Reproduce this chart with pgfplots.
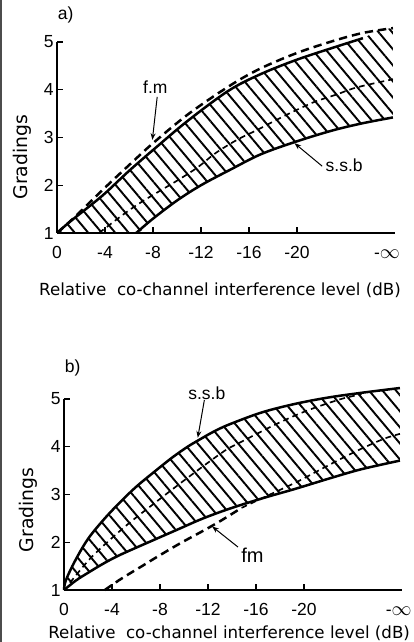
\documentclass[border=0pt]{standalone}
\usepackage{fontspec}
\setmainfont{Liberation Sans}
\newfontfamily\labfont{DejaVu Sans}
\usepackage{pgfplots}
\pgfplotsset{compat=1.18}
\usepgfplotslibrary{fillbetween}
\usetikzlibrary{patterns.meta,arrows.meta}

\pgfplotsset{panel/.style={
  scale only axis, width=203pt, height=114.6pt,
  xmin=0, xmax=28.2, ymin=1, ymax=5,
  axis lines=left, axis line style={-, line width=1.1pt},
  clip=false, axis on top, no markers,
  tick align=inside, major tick length=3.5pt,
  tick style={black, line width=0.8pt},
  xtick={0,4,8,12,16,20}, xticklabels={0,-4,-8,-12,-16,-20},
  ytick={1,2,3,4,5}, yticklabels={1,2,3,4,5},
  tick label style={font=\fontsize{10.5}{12}\selectfont},
  xticklabel style={yshift=-4.3pt},
  yticklabel style={xshift=1.5pt},
  extra x tick style={major tick length=0pt},
  extra x tick labels={\vphantom{0}-{\fontsize{12.5}{12.5}\selectfont$\infty$}},
}}
\tikzset{
  hatch/.style={draw=none, pattern={Lines[angle=-50, distance=6.2pt, line width=1.15pt]}},
  solidc/.style={black, line width=1.5pt, smooth, tension=0.55},
  fmc/.style={black, line width=1.5pt, smooth, tension=0.55, dash pattern=on 5pt off 3pt},
  innerc/.style={black, line width=1pt, smooth, tension=0.55, dash pattern=on 3.5pt off 2.5pt},
  lab/.style={font=\fontsize{10.5}{12}\selectfont},
  xlab/.style={font=\labfont\fontsize{10}{12}\selectfont},
  ylab/.style={font=\labfont\fontsize{11.3}{13}\selectfont, rotate=90},
}

\begin{document}
\begin{tikzpicture}
% ---------------- panel a ----------------
\begin{axis}[panel, at={(0pt,0pt)}, anchor=south west,
  extra x ticks={27.5}]
\addplot[draw=none, smooth, tension=0.55, name path=ufA] coordinates {
 (0,1) (1,1.22) (2.6,1.54) (4,1.83) (6,2.3) (8.2,2.78) (10.9,3.35) (14.3,3.98)
 (17,4.33) (20,4.63) (23,4.88) (25.5,5.08) (26.7,5.24) (28,5.29)};
\addplot[draw=none, smooth, tension=0.55, name path=lfA] coordinates {
 (0,1) (3,1) (6.6,1) (8,1.3) (10,1.68) (12,2.0) (14.4,2.32) (17,2.65)
 (20,2.92) (23,3.15) (25.5,3.3) (28,3.42)};
\addplot[hatch] fill between[of=ufA and lfA];
\addplot[solidc] coordinates {
 (0,1) (1,1.22) (2.6,1.54) (4,1.83) (6,2.3) (8.2,2.78) (10.9,3.35) (14.3,3.98)
 (17,4.33) (20,4.63) (23,4.88) (25.5,5.08)};
\addplot[solidc] coordinates {
 (6.6,1) (8,1.3) (10,1.68) (12,2.0) (14.4,2.32) (17,2.65)
 (20,2.92) (23,3.15) (25.5,3.3) (28,3.42)};
\addplot[fmc] coordinates {
 (0,1) (1.5,1.34) (4,1.95) (6,2.42) (8,2.88) (11,3.5) (14.5,4.1) (17,4.45)
 (20,4.77) (23,5.02) (25.5,5.19) (28,5.29)};
\addplot[innerc] coordinates {
 (3.5,1) (5.7,1.42) (7.3,1.69) (10.1,2.11) (11.75,2.38) (13.2,2.67) (15,2.95)
 (16.7,3.16) (18.3,3.37) (20,3.58) (21.5,3.75) (23.3,3.9) (25,4.05) (28,4.22)};
\node[lab] at (axis cs:8.2,4.06) {f.m};
\draw[-{Stealth[length=4pt,width=3pt]}, line width=0.6pt] (axis cs:8.35,3.85) -- (axis cs:7.95,2.95);
\node[lab, anchor=west] at (axis cs:21.9,2.42) {s.s.b};
\draw[-{Stealth[length=4pt,width=3pt]}, line width=0.6pt] (axis cs:22.1,2.4) -- (axis cs:19.8,2.88);
\node[xlab] at (rel axis cs:0.482,-0.298) {Relative\ \ co-channel interference level (dB)};
\node[ylab] at ([xshift=-21pt]rel axis cs:0,0.398) {Gradings};
\node[lab, anchor=west] at ([xshift=-3pt]rel axis cs:0.0,1.141) {a)};
\end{axis}

% ---------------- panel b ----------------
\begin{axis}[panel, at={(4.2pt,-214.2pt)}, anchor=south west,
  extra x ticks={27.9}]
\addplot[draw=none, smooth, tension=0.55, name path=uB] coordinates {
 (0,1) (0.15,1.2) (0.9,1.6) (2,2.07) (3.4,2.5) (4.8,2.87) (6.1,3.18) (7.5,3.47)
 (9,3.77) (10.3,4.0) (11.3,4.15) (12.5,4.32) (13.8,4.47) (16.5,4.72) (19.3,4.9)
 (22,5.03) (24.8,5.13) (28,5.23)};
\addplot[draw=none, smooth, tension=0.55, name path=lB] coordinates {
 (0,1) (1,1.2) (2,1.36) (3.4,1.57) (4.8,1.75) (7.5,2.05) (9.5,2.27) (11.6,2.5)
 (14,2.72) (16.8,2.94) (19.3,3.12) (22.3,3.35) (24.8,3.53) (28,3.71)};
\addplot[hatch] fill between[of=uB and lB];
\addplot[solidc] coordinates {
 (0,1) (0.15,1.2) (0.9,1.6) (2,2.07) (3.4,2.5) (4.8,2.87) (6.1,3.18) (7.5,3.47)
 (9,3.77) (10.3,4.0) (11.3,4.15) (12.5,4.32) (13.8,4.47) (16.5,4.72) (19.3,4.9)
 (22,5.03) (24.8,5.13) (28,5.23)};
\addplot[solidc] coordinates {
 (0,1) (1,1.2) (2,1.36) (3.4,1.57) (4.8,1.75) (7.5,2.05) (9.5,2.27) (11.6,2.5)
 (14,2.72) (16.8,2.94) (19.3,3.12) (22.3,3.35) (24.8,3.53) (28,3.71)};
\addplot[fmc] coordinates {
 (3.4,1) (4.8,1.24) (6.5,1.5) (7.8,1.7) (9.7,1.98) (11.6,2.24) (13,2.44) (14.8,2.72)};
\addplot[innerc] coordinates {
 (14.8,2.72) (17,2.98) (19.3,3.25) (21.2,3.5) (23.1,3.75) (24.8,3.96) (26.7,4.17) (28,4.27)};
\addplot[innerc] coordinates {
 (0.5,1.15) (2.3,1.69) (5,2.31) (7.5,2.81) (10.3,3.35) (13.3,3.9) (14.6,4.08)
 (17.9,4.5) (20.4,4.77) (23.1,5.0) (24.8,5.1)};
\node[lab] at (axis cs:11.9,5.13) {s.s.b};
\draw[-{Stealth[length=4pt,width=3pt]}, line width=0.6pt] (axis cs:11.7,4.98) -- (axis cs:11.15,4.19);
\node[lab, font=\fontsize{12}{14}\selectfont] at (axis cs:15.7,1.73) {fm};
\draw[-{Stealth[length=4pt,width=3pt]}, line width=0.6pt] (axis cs:14.5,1.9) -- (axis cs:12.35,2.33);
\node[xlab] at (rel axis cs:0.488,-0.225) {Relative\ \ co-channel interference level (dB)};
\node[ylab] at ([xshift=-21.6pt]rel axis cs:0,0.42) {Gradings};
\node[lab, anchor=west] at ([xshift=-3pt]rel axis cs:0.0,1.162) {b)};
\end{axis}
\draw[black!70, line width=1pt] (-33.7pt,-245.4pt) -- (-33.7pt,139.8pt);
\pgfresetboundingbox
\path[use as bounding box] (-34.2pt,-245.4pt) rectangle (214.2pt,139.8pt);
\end{tikzpicture}
\end{document}
